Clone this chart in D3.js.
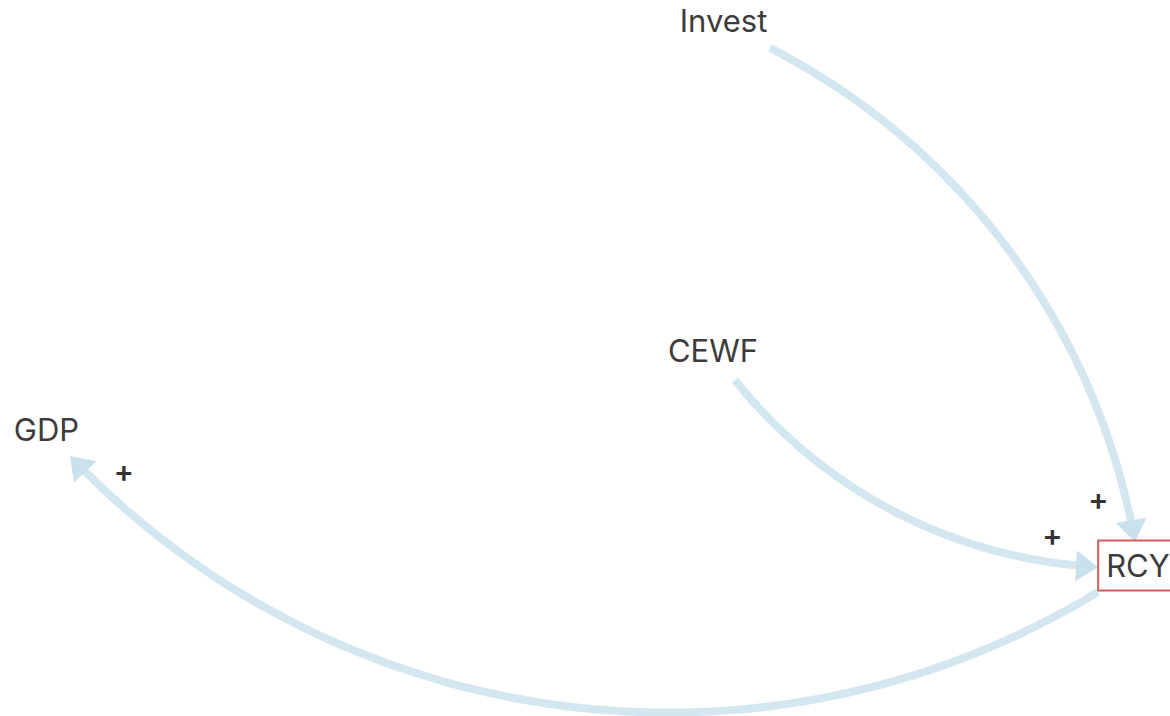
<!DOCTYPE html>
<html>
<head>
<meta charset="utf-8">
<script src="https://cdn.jsdelivr.net/npm/d3@7"></script>
<style>
  html, body { margin: 0; padding: 0; background: #fff; overflow: hidden; }
  svg { display: block; }
</style>
</head>
<body>
<div id="container"></div>
<script>
(function () {
    // elements of the loop diagram
    var elements = ["Invest", "CEWF", "GDP", "RCY"];
    var focused = "RCY";

    // connections: from, to, polarity
    var connFrom = ["Invest", "CEWF", "RCY"];
    var connTo = ["RCY", "RCY", "GDP"];
    var connSign = ["+", "+", "+"];

    // layout (screen pixels) - where things sit on the map
    var width = 1170, height = 716;
    var nodePos = {
        "Invest": [723.5, 20.5],
        "CEWF": [713, 350.5],
        "GDP": [46.5, 429.5],
        "RCY": [1138, 565.5]
    };
    // visible start / end of each curve and how far it bulges (signed)
    var connStart = [[770, 48], [735, 380], [1098, 592]];
    var connEnd = [[1135, 542], [1098, 567], [70, 456]];
    var connBend = [-72, 44, -183];

    var lineColor = "#d4e7f0";
    var arrowColor = "#c9e1ec";
    var arrowLen = 22, arrowWidth = 31;

    var svg = d3.select("#container")
        .append("svg")
        .attr("width", width)
        .attr("height", height);

    var linkLayer = svg.append("g");
    var nodeLayer = svg.append("g");

    // build a circular arc through start/end with given sagitta
    function arcGeom(p0, p1, bend) {
        var dx = p1[0] - p0[0], dy = p1[1] - p0[1];
        var len = Math.sqrt(dx * dx + dy * dy);
        var ux = dx / len, uy = dy / len;
        var nx = -uy, ny = ux;
        var h = len / 2, s = Math.abs(bend), sg = bend < 0 ? -1 : 1;
        var r = (h * h + s * s) / (2 * s);
        var mx = (p0[0] + p1[0]) / 2, my = (p0[1] + p1[1]) / 2;
        var cx = mx - sg * nx * (r - s), cy = my - sg * ny * (r - s);
        var a0 = Math.atan2(p0[1] - cy, p0[0] - cx);
        var a1 = Math.atan2(p1[1] - cy, p1[0] - cx);
        var da = a1 - a0;
        while (da > Math.PI) da -= 2 * Math.PI;
        while (da < -Math.PI) da += 2 * Math.PI;
        return { cx: cx, cy: cy, r: r, a0: a0, a1: a1, dir: da < 0 ? -1 : 1, da: da };
    }

    var line = d3.line();

    connFrom.forEach(function (f, i) {
        var g = arcGeom(connStart[i], connEnd[i], connBend[i]);
        var aEnd = g.a1 - g.dir * (arrowLen - 2) / g.r;
        var pts = d3.range(0, 81).map(function (k) {
            var a = g.a0 + (aEnd - g.a0) * k / 80;
            return [g.cx + g.r * Math.cos(a), g.cy + g.r * Math.sin(a)];
        });
        linkLayer.append("path")
            .attr("d", line(pts))
            .attr("fill", "none")
            .attr("stroke", lineColor)
            .attr("stroke-width", 8);

        // arrow head along the end tangent
        var tx = -Math.sin(g.a1) * g.dir, ty = Math.cos(g.a1) * g.dir;
        var tip = connEnd[i];
        var bx = tip[0] - tx * arrowLen, by = tip[1] - ty * arrowLen;
        var px = -ty * arrowWidth / 2, py = tx * arrowWidth / 2;
        linkLayer.append("path")
            .attr("d", line([tip, [bx + px, by + py], [bx - px, by - py]]) + "Z")
            .attr("fill", arrowColor);

        // polarity sits on the inner side, near the arrow
        var aL = g.a1 - g.dir * 50 / g.r;
        var rL = g.r - 27;
        linkLayer.append("text")
            .attr("x", g.cx + rL * Math.cos(aL))
            .attr("y", g.cy + rL * Math.sin(aL))
            .attr("dy", "0.35em")
            .attr("text-anchor", "middle")
            .style("font-family", "Inter, 'Open Sans', sans-serif")
            .style("font-size", "30px")
            .style("font-weight", 600)
            .style("fill", "#333")
            .text(connSign[i]);
    });

    // element labels
    elements.forEach(function (name) {
        var p = nodePos[name];
        var grp = nodeLayer.append("g");
        var box = grp.append("rect");
        var t = grp.append("text")
            .attr("x", p[0])
            .attr("y", p[1])
            .attr("dy", "0.37em")
            .attr("text-anchor", "middle")
            .style("font-family", "Inter, 'Open Sans', sans-serif")
            .style("font-size", "31px")
            .style("fill", "#3c3c3c")
            .text(name);
        if (name === focused) {
            var bb = t.node().getBBox();
            box.attr("x", bb.x - 8)
                .attr("y", p[1] - 25)
                .attr("width", bb.width + 16)
                .attr("height", 50)
                .attr("fill", "#fff")
                .attr("stroke", "#d25c5e")
                .attr("stroke-width", 2);
        } else {
            box.remove();
        }
    });
})();
</script>
</body>
</html>
